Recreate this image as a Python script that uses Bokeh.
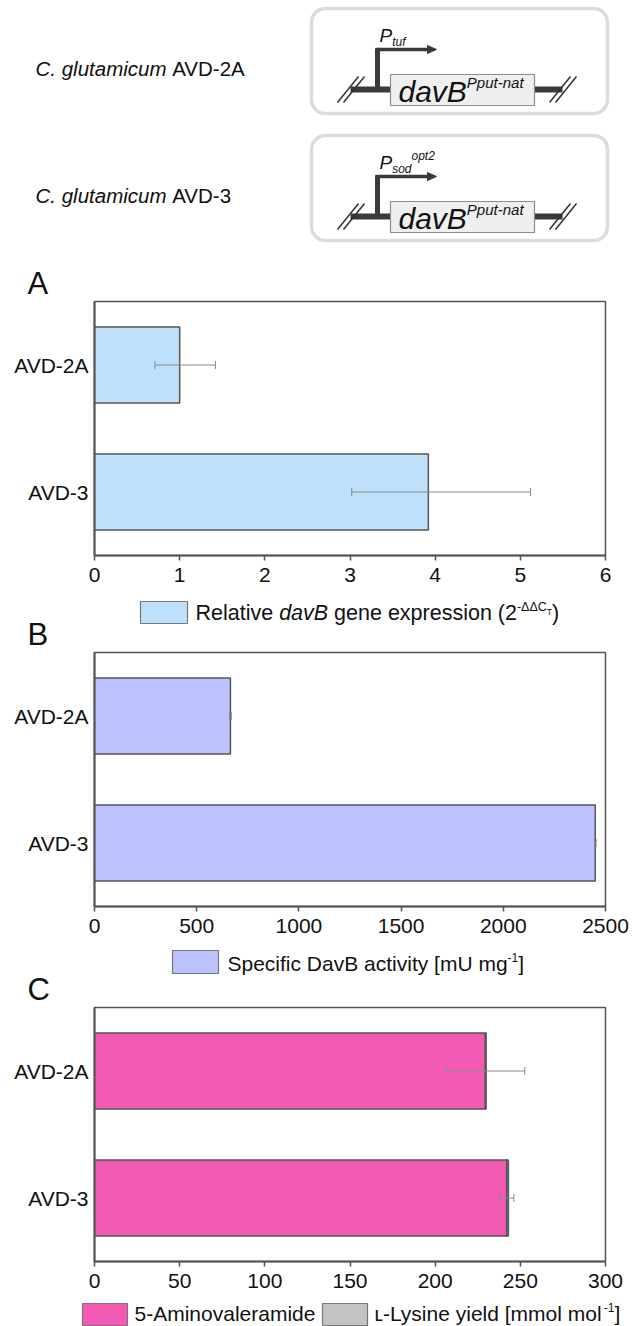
from bokeh.plotting import figure
from bokeh.models import Range1d, FactorRange, ColumnDataSource, Whisker, TeeHead, FixedTicker
from bokeh.layouts import column
from bokeh.embed import file_html
from bokeh.resources import INLINE
from bokeh.core.properties import value

# ---------------- data ----------------
categories = ["AVD-2A", "AVD-3"]

expr_values = [1.0, 3.92]
expr_lower = [0.71, 3.02]
expr_upper = [1.42, 5.12]
expr_ticks = [0, 1, 2, 3, 4, 5, 6]

act_values = [665, 2450]
act_lower = [661, 2446]
act_upper = [669, 2454]
act_ticks = [0, 500, 1000, 1500, 2000, 2500]

amide_values = [229.5, 242.0]
lysine_values = [0.4, 1.0]
yield_lower = [206.3, 238.2]
yield_upper = [252.6, 246.2]
yield_ticks = [0, 50, 100, 150, 200, 250, 300]

strains = ["AVD-2A", "AVD-3"]
panel_letters = ["A", "B", "C"]

# ---------------- style ----------------
FONT = "Liberation Sans"
BLUE = "#BEE0FB"
LAVENDER = "#BBC2FF"
PINK = "#F25AB4"
GRAY = "#C3C3C3"
EDGE = "#555555"
ERR = "#8a8a8a"
TXT = "#111111"
NB = "\u00a0"

W = {' ': 278, NB: 278, '!': 278, '(': 333, ')': 333, '-': 333, '.': 278, '[': 278, ']': 278,
     'A': 667, 'B': 667, 'C': 722, 'D': 722, 'E': 667, 'F': 611, 'G': 778, 'H': 722, 'I': 278,
     'J': 500, 'K': 667, 'L': 556, 'M': 833, 'N': 722, 'O': 778, 'P': 667, 'Q': 778, 'R': 722,
     'S': 667, 'T': 611, 'U': 722, 'V': 667, 'W': 944, 'X': 667, 'Y': 667, 'Z': 611,
     'a': 556, 'b': 556, 'c': 500, 'd': 556, 'e': 556, 'f': 278, 'g': 556, 'h': 556, 'i': 222,
     'j': 222, 'k': 500, 'l': 222, 'm': 833, 'n': 556, 'o': 556, 'p': 556, 'q': 556, 'r': 333,
     's': 500, 't': 278, 'u': 556, 'v': 500, 'w': 722, 'x': 500, 'y': 500, 'z': 500,
     '\u0394': 668, '\u029f': 470}


def tw(s, size):
    return sum(W.get(c, 556) for c in s) / 1000.0 * size


def strip(h, origin):
    p = figure(width=633, height=h, x_range=Range1d(0, 633), y_range=Range1d(0, h),
               output_backend="svg", toolbar_location=None, title=None, min_border=0,
               min_border_left=0, min_border_right=0, min_border_top=0, min_border_bottom=0,
               x_axis_location=None, y_axis_location=None, frame_align=False)
    p.outline_line_color = None
    p.grid.grid_line_color = None
    p.grid.visible = False
    fy = lambda y: origin + h - y
    return p, fy


def rich(p, fy, x, yb, pieces, color=TXT):
    for t, size, style, dy in pieces:
        t = t.replace(" ", NB)
        p.text(x=[x], y=[fy(yb + dy - 0.33 * size)], text=[t], text_font=value(FONT),
               text_font_size=value(f"{size}px"), text_font_style=style,
               text_baseline="alphabetic", text_align="left", text_color=color)
        x += tw(t, size)
    return x


def swatch(p, fy, x0, x1, y0, y1, color):
    p.quad(left=[x0], right=[x1], top=[fy(y0)], bottom=[fy(y1)], fill_color=color,
           line_color="#777777", line_width=1.2)


def chart(xmax, ticks):
    p = figure(width=633, height=296, x_range=Range1d(0, xmax),
               y_range=FactorRange(factors=list(reversed(categories))),
               output_backend="svg", toolbar_location=None, title=None, frame_align=False,
               min_border_left=94, min_border_right=28, min_border_top=1, min_border_bottom=41)
    p.xgrid.visible = False
    p.ygrid.visible = False
    p.outline_line_color = EDGE
    p.outline_line_width = 1.5
    xa = p.xaxis[0]
    xa.ticker = FixedTicker(ticks=ticks)
    xa.major_tick_out = 5
    xa.major_tick_in = 0
    xa.minor_tick_out = 0
    xa.minor_tick_in = 0
    xa.axis_line_color = EDGE
    xa.axis_line_width = 2
    xa.major_tick_line_color = EDGE
    xa.major_tick_line_width = 1.5
    xa.major_label_text_font = FONT
    xa.major_label_text_font_size = "21px"
    xa.major_label_text_color = TXT
    xa.major_label_standoff = 7
    ya = p.yaxis[0]
    ya.major_tick_out = 0
    ya.major_tick_in = 0
    ya.axis_line_color = EDGE
    ya.axis_line_width = 2
    ya.major_label_text_font = FONT
    ya.major_label_text_font_size = "21px"
    ya.major_label_text_color = TXT
    ya.major_label_standoff = 6
    return p


def whiskers(p, lower, upper):
    src = ColumnDataSource(dict(cat=categories, lower=lower, upper=upper))
    w = Whisker(source=src, base="cat", lower="lower", upper="upper", dimension="width",
                line_color=ERR, line_width=1, level="annotation",
                upper_head=TeeHead(size=8, line_color=ERR, line_width=1),
                lower_head=TeeHead(size=8, line_color=ERR, line_width=1))
    p.add_layout(w)


# ---------------- top diagram ----------------
d, fy0 = strip(300, 0)

box_tops = [8, 135]
for i, T in enumerate(box_tops):
    rich(d, fy0, 35, T + 67, [("C. glutamicum ", 20.5, "italic", 0), (strains[i], 20.5, "normal", 0)])
    d.quad(left=[311], right=[607], top=[fy0(T)], bottom=[fy0(T + 105)], border_radius=14,
           fill_color="white", line_color="#dcdcdc", line_width=3.5)
    # backbone
    d.segment(x0=[350, 534], x1=[390, 562], y0=[fy0(T + 81)] * 2, y1=[fy0(T + 81)] * 2,
              line_color="#3a3a3a", line_width=6)
    # slashes
    for sx in (337, 549):
        d.segment(x0=[sx, sx + 6], x1=[sx + 21, sx + 27], y0=[fy0(T + 94)] * 2, y1=[fy0(T + 68)] * 2,
                  line_color="#333333", line_width=1.5)
    # gene box
    d.quad(left=[390], right=[534], top=[fy0(T + 66)], bottom=[fy0(T + 97)],
           fill_color="#efefef", line_color="#8c8c8c", line_width=1.2)
    rich(d, fy0, 398, T + 93, [("davB", 30, "italic", 0), ("Pput-nat", 15, "italic", -14)])
    # promoter arrow
    d.segment(x0=[377], x1=[377], y0=[fy0(T + 81)], y1=[fy0(T + 40)], line_color="#3a3a3a", line_width=5)
    d.segment(x0=[375], x1=[428], y0=[fy0(T + 41)], y1=[fy0(T + 41)], line_color="#3a3a3a", line_width=3.5)
    d.patch(x=[427, 436, 427], y=[fy0(T + 37), fy0(T + 41), fy0(T + 45)], color="#3a3a3a")
    if i == 0:
        rich(d, fy0, 379, T + 33, [("P", 19, "italic", 0), ("tuf", 12, "italic", 4)])
    else:
        xe = rich(d, fy0, 379, T + 33, [("P", 19, "italic", 0), ("sod", 12, "italic", 4)])
        rich(d, fy0, xe, T + 33, [("opt2", 12, "italic", -9)])

rich(d, fy0, 27, 293, [(panel_letters[0], 31, "normal", 0)])

# ---------------- panel A ----------------
pa = chart(6, expr_ticks)
pa.hbar(y=categories, left=0, right=expr_values, height=0.6, fill_color=BLUE,
        line_color=EDGE, line_width=1.5)
whiskers(pa, expr_lower, expr_upper)

s1, fy1 = strip(55, 596)
swatch(s1, fy1, 140, 187, 601, 623, BLUE)
rich(s1, fy1, 195, 620, [("Relative ", 21.5, "normal", 0), ("davB", 21.5, "italic", 0),
                        (" gene expression (2", 21.5, "normal", 0), ("-\u0394\u0394C", 12.5, "normal", -9),
                        ("T", 8.5, "normal", -6), (")", 21.5, "normal", 0)])
rich(s1, fy1, 27, 644, [(panel_letters[1], 31, "normal", 0)])

# ---------------- panel B ----------------
pb = chart(2500, act_ticks)
pb.hbar(y=categories, left=0, right=act_values, height=0.6, fill_color=LAVENDER,
        line_color=EDGE, line_width=1.5)
whiskers(pb, act_lower, act_upper)

s2, fy2 = strip(59, 947)
swatch(s2, fy2, 172, 218, 950, 973, LAVENDER)
rich(s2, fy2, 227, 970, [("Specific DavB activity [mU mg", 21, "normal", 0), ("-1", 12, "normal", -9),
                        ("]", 21, "normal", 0)])
rich(s2, fy2, 27, 999, [(panel_letters[2], 31, "normal", 0)])

# ---------------- panel C ----------------
pc = chart(300, yield_ticks)
total = [a + b for a, b in zip(amide_values, lysine_values)]
pc.hbar(y=categories, left=0, right=amide_values, height=0.6, fill_color=PINK,
        line_color=EDGE, line_width=1.5)
pc.hbar(y=categories, left=amide_values, right=total, height=0.6, fill_color=GRAY,
        line_color=EDGE, line_width=1.5)
whiskers(pc, yield_lower, yield_upper)

s3, fy3 = strip(24, 1302)
swatch(s3, fy3, 82, 127, 1303, 1325, PINK)
rich(s3, fy3, 134, 1320, [("5-Aminovaleramide", 21, "normal", 0)])
swatch(s3, fy3, 322, 367, 1303, 1325, GRAY)
rich(s3, fy3, 374, 1320, [("\u029f-Lysine yield [mmol mol", 21, "normal", 0), ("-1", 12, "normal", -9),
                         ("]", 21, "normal", 0)])

layout = column(d, pa, s1, pb, s2, pc, s3, spacing=0)
open("out.html", "w").write(file_html(layout, INLINE))
